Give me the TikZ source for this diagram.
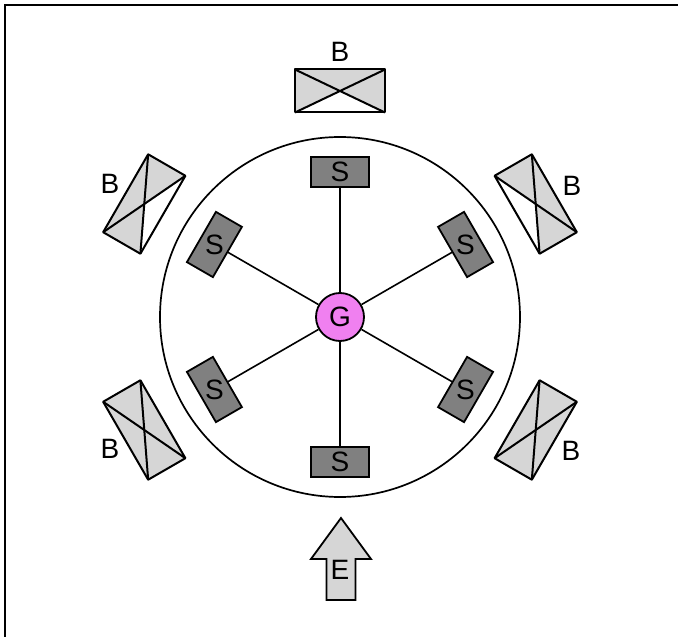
\documentclass[tikz,border=0pt]{standalone}
\usepackage{fontspec}
\setmainfont{Liberation Sans}
\usetikzlibrary{backgrounds}
\definecolor{boxgray}{RGB}{214,214,214}
\definecolor{sgray}{RGB}{128,128,128}
\definecolor{gviolet}{RGB}{240,128,240}
\tikzset{
  lbl/.style={font=\fontsize{28}{30}\selectfont, inner sep=0pt},
  sbox/.style={draw, line width=1.8pt, fill=sgray, minimum width=58pt, minimum height=30pt, inner sep=0pt, outer sep=0pt},
  bbox/.style={fill=boxgray, minimum width=90pt, minimum height=43pt, inner sep=0pt, outer sep=0pt},
  bline/.style={line width=2pt, line join=round},
  gnode/.style={circle, draw, line width=1.8pt, fill=gviolet, minimum size=48pt, inner sep=0pt},
  spoke/.style={line width=1.6pt},
}
\begin{document}
\begin{tikzpicture}[x=1pt,y=1pt]
\useasboundingbox (-340,-320) rectangle (338,317);
% frame edges
\draw[line width=2pt] (-335,-320) -- (-335,312) -- (338,312);
% outer ring
\draw[line width=1.7pt] (0,0) circle (180);
% generator
\node[gnode] (g) at (0,0) {};
\node[lbl] at (g) {G};
% stations around the generator
\foreach \a/\n in {90/1,30/2,330/3,270/4,210/5,150/6}{
  \node[sbox, rotate=\a-90] (s\n) at (\a:145) {};
  \node[lbl] at (s\n) {S};
}
\begin{scope}[on background layer]
\foreach \n in {1,...,6} \draw[spoke] (g) -- (s\n.center);
\end{scope}
% outer blocks; the three upper ones have a light inner triangle
\foreach \a/\n/\w in {90/1/1,30/2/1,150/3/1,210/4/0,330/5/0}{
  \node[bbox, rotate=\a-90] (b\n) at (\a:226) {};
  \ifnum\w=1
    \fill[white] (b\n.south west) -- (b\n.center) -- (b\n.south east) -- cycle;
  \fi
  \draw[bline] (b\n.north west) -- (b\n.north east) -- (b\n.south east) -- (b\n.south west) -- cycle;
  \draw[bline] (b\n.north west) -- (b\n.south east);
  \draw[bline] (b\n.north east) -- (b\n.south west);
}
\node[lbl] (lb1) at (0,265) {B};
\node[lbl] (lb2) at (232,131) {B};
\node[lbl] (lb3) at (-230,133) {B};
\node[lbl] (lb4) at (-230,-132) {B};
\node[lbl] (lb5) at (231,-134) {B};
% entrance arrow
\draw[line width=1.8pt, fill=boxgray, line join=miter]
  (1,-201) -- (31,-242) -- (15.5,-242) -- (15.5,-283) -- (-13.5,-283) -- (-13.5,-242) -- (-29,-242) -- cycle;
\node[lbl] (e) at (0,-253) {E};
\end{tikzpicture}
\end{document}
